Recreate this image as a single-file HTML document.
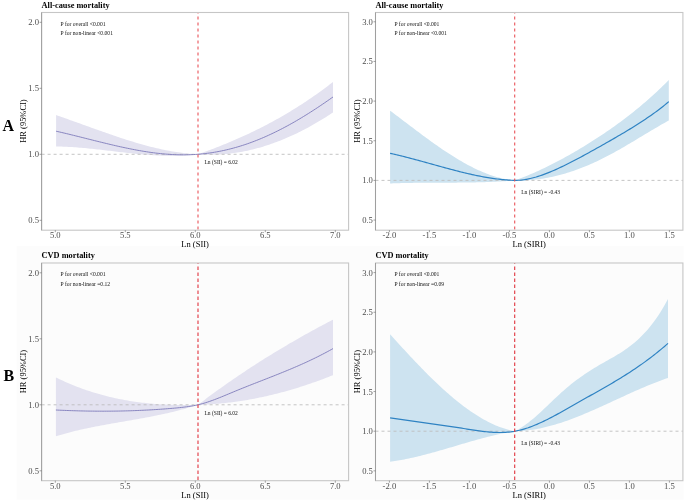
<!DOCTYPE html>
<html><head><meta charset="utf-8"><style>
html,body{margin:0;padding:0;background:#fff;}
body{width:685px;height:501px;overflow:hidden;}
svg{display:block;font-family:"Liberation Serif", serif;filter:blur(0.3px);}
</style></head><body>
<svg width="685" height="501" viewBox="0 0 685 501">
<rect x="16.6" y="246" width="667" height="253.7" fill="#fcfcfc"/>
<path d="M56.10,115.12 L57.90,115.74 L59.69,116.35 L61.49,116.97 L63.28,117.60 L65.08,118.23 L66.88,118.86 L68.67,119.49 L70.47,120.13 L72.27,120.77 L74.06,121.41 L75.86,122.05 L77.65,122.70 L79.45,123.34 L81.25,123.99 L83.04,124.64 L84.84,125.29 L86.64,125.94 L88.43,126.58 L90.23,127.23 L92.02,127.88 L93.82,128.52 L95.62,129.17 L97.41,129.81 L99.21,130.45 L101.01,131.09 L102.80,131.72 L104.60,132.36 L106.39,132.99 L108.19,133.61 L109.99,134.24 L111.78,134.85 L113.58,135.47 L115.37,136.08 L117.17,136.68 L118.97,137.28 L120.76,137.88 L122.56,138.47 L124.36,139.05 L126.15,139.63 L127.95,140.20 L129.74,140.76 L131.54,141.32 L133.34,141.87 L135.13,142.41 L136.93,142.94 L138.73,143.47 L140.52,143.99 L142.32,144.49 L144.11,144.99 L145.91,145.48 L147.71,145.96 L149.50,146.43 L151.30,146.89 L153.09,147.34 L154.89,147.78 L156.69,148.21 L158.48,148.62 L160.28,149.03 L162.08,149.42 L163.87,149.80 L165.67,150.16 L167.46,150.52 L169.26,150.86 L171.06,151.19 L172.85,151.50 L174.65,151.80 L176.45,152.09 L178.24,152.36 L180.04,152.62 L181.83,152.86 L183.63,153.08 L185.43,153.29 L187.22,153.49 L189.02,153.66 L190.82,153.83 L192.61,153.97 L194.41,154.10 L196.20,154.21 L198.00,154.30 L199.71,153.69 L201.42,153.08 L203.13,152.47 L204.84,151.84 L206.54,151.22 L208.25,150.58 L209.96,149.94 L211.67,149.30 L213.38,148.65 L215.09,147.99 L216.80,147.32 L218.51,146.65 L220.22,145.98 L221.92,145.29 L223.63,144.60 L225.34,143.90 L227.05,143.20 L228.76,142.49 L230.47,141.77 L232.18,141.05 L233.89,140.31 L235.59,139.57 L237.30,138.83 L239.01,138.07 L240.72,137.31 L242.43,136.54 L244.14,135.76 L245.85,134.97 L247.56,134.18 L249.27,133.38 L250.97,132.57 L252.68,131.75 L254.39,130.92 L256.10,130.08 L257.81,129.24 L259.52,128.38 L261.23,127.52 L262.94,126.65 L264.65,125.77 L266.35,124.88 L268.06,123.98 L269.77,123.07 L271.48,122.15 L273.19,121.23 L274.90,120.29 L276.61,119.34 L278.32,118.39 L280.03,117.42 L281.73,116.44 L283.44,115.46 L285.15,114.46 L286.86,113.45 L288.57,112.43 L290.28,111.41 L291.99,110.37 L293.70,109.32 L295.41,108.26 L297.11,107.18 L298.82,106.10 L300.53,105.01 L302.24,103.90 L303.95,102.79 L305.66,101.66 L307.37,100.52 L309.08,99.37 L310.78,98.20 L312.49,97.03 L314.20,95.84 L315.91,94.64 L317.62,93.43 L319.33,92.21 L321.04,90.97 L322.75,89.73 L324.46,88.47 L326.16,87.19 L327.87,85.91 L329.58,84.61 L331.29,83.30 L333.00,81.97 L333.00,112.47 L331.29,113.59 L329.58,114.71 L327.87,115.81 L326.16,116.90 L324.46,117.97 L322.75,119.03 L321.04,120.07 L319.33,121.10 L317.62,122.11 L315.91,123.11 L314.20,124.10 L312.49,125.07 L310.78,126.02 L309.08,126.96 L307.37,127.89 L305.66,128.80 L303.95,129.70 L302.24,130.58 L300.53,131.44 L298.82,132.30 L297.11,133.13 L295.41,133.95 L293.70,134.76 L291.99,135.55 L290.28,136.33 L288.57,137.09 L286.86,137.83 L285.15,138.56 L283.44,139.28 L281.73,139.97 L280.03,140.66 L278.32,141.33 L276.61,141.98 L274.90,142.61 L273.19,143.23 L271.48,143.84 L269.77,144.43 L268.06,145.00 L266.35,145.56 L264.65,146.10 L262.94,146.63 L261.23,147.14 L259.52,147.63 L257.81,148.11 L256.10,148.57 L254.39,149.01 L252.68,149.44 L250.97,149.85 L249.27,150.25 L247.56,150.63 L245.85,150.99 L244.14,151.34 L242.43,151.67 L240.72,151.98 L239.01,152.28 L237.30,152.56 L235.59,152.82 L233.89,153.07 L232.18,153.30 L230.47,153.51 L228.76,153.71 L227.05,153.89 L225.34,154.05 L223.63,154.20 L221.92,154.32 L220.22,154.43 L218.51,154.53 L216.80,154.61 L215.09,154.67 L213.38,154.71 L211.67,154.73 L209.96,154.74 L208.25,154.73 L206.54,154.70 L204.84,154.66 L203.13,154.59 L201.42,154.51 L199.71,154.42 L198.00,154.30 L196.20,154.52 L194.41,154.73 L192.61,154.91 L190.82,155.08 L189.02,155.23 L187.22,155.36 L185.43,155.48 L183.63,155.58 L181.83,155.67 L180.04,155.74 L178.24,155.79 L176.45,155.83 L174.65,155.86 L172.85,155.87 L171.06,155.88 L169.26,155.86 L167.46,155.84 L165.67,155.80 L163.87,155.75 L162.08,155.69 L160.28,155.62 L158.48,155.54 L156.69,155.45 L154.89,155.35 L153.09,155.24 L151.30,155.12 L149.50,154.99 L147.71,154.86 L145.91,154.72 L144.11,154.57 L142.32,154.41 L140.52,154.25 L138.73,154.08 L136.93,153.90 L135.13,153.72 L133.34,153.53 L131.54,153.34 L129.74,153.15 L127.95,152.95 L126.15,152.75 L124.36,152.55 L122.56,152.34 L120.76,152.13 L118.97,151.92 L117.17,151.71 L115.37,151.49 L113.58,151.28 L111.78,151.07 L109.99,150.85 L108.19,150.64 L106.39,150.43 L104.60,150.22 L102.80,150.01 L101.01,149.80 L99.21,149.60 L97.41,149.40 L95.62,149.20 L93.82,149.01 L92.02,148.82 L90.23,148.63 L88.43,148.45 L86.64,148.28 L84.84,148.11 L83.04,147.95 L81.25,147.79 L79.45,147.64 L77.65,147.50 L75.86,147.36 L74.06,147.24 L72.27,147.12 L70.47,147.01 L68.67,146.91 L66.88,146.82 L65.08,146.74 L63.28,146.67 L61.49,146.62 L59.69,146.57 L57.90,146.53 L56.10,146.51 Z" fill="#e3e2f0" stroke="none"/>
<line x1="41.6" x2="348.6" y1="154.30" y2="154.30" stroke="#bdbdbd" stroke-width="0.9" stroke-dasharray="3,3"/>
<path d="M56.10,131.20 L57.84,131.60 L59.58,132.00 L61.32,132.40 L63.07,132.81 L64.81,133.22 L66.55,133.64 L68.29,134.06 L70.03,134.48 L71.77,134.91 L73.52,135.34 L75.26,135.77 L77.00,136.20 L78.74,136.63 L80.48,137.07 L82.22,137.50 L83.96,137.94 L85.71,138.38 L87.45,138.82 L89.19,139.26 L90.93,139.69 L92.67,140.13 L94.41,140.57 L96.15,141.00 L97.90,141.43 L99.64,141.86 L101.38,142.29 L103.12,142.72 L104.86,143.14 L106.60,143.57 L108.35,143.98 L110.09,144.40 L111.83,144.81 L113.57,145.22 L115.31,145.62 L117.05,146.02 L118.79,146.41 L120.54,146.80 L122.28,147.18 L124.02,147.55 L125.76,147.92 L127.50,148.29 L129.24,148.64 L130.98,148.99 L132.73,149.34 L134.47,149.67 L136.21,150.00 L137.95,150.32 L139.69,150.63 L141.43,150.93 L143.18,151.23 L144.92,151.51 L146.66,151.78 L148.40,152.05 L150.14,152.30 L151.88,152.55 L153.62,152.78 L155.37,153.00 L157.11,153.22 L158.85,153.42 L160.59,153.60 L162.33,153.78 L164.07,153.94 L165.82,154.09 L167.56,154.23 L169.30,154.36 L171.04,154.47 L172.78,154.56 L174.52,154.65 L176.26,154.72 L178.01,154.77 L179.75,154.81 L181.49,154.83 L183.23,154.84 L184.97,154.83 L186.71,154.81 L188.45,154.77 L190.20,154.71 L191.94,154.64 L193.68,154.55 L195.42,154.45 L197.16,154.33 L198.90,154.19 L200.65,154.03 L202.39,153.87 L204.13,153.68 L205.87,153.48 L207.61,153.26 L209.35,153.02 L211.09,152.77 L212.84,152.50 L214.58,152.22 L216.32,151.92 L218.06,151.60 L219.80,151.27 L221.54,150.92 L223.28,150.55 L225.03,150.17 L226.77,149.77 L228.51,149.36 L230.25,148.92 L231.99,148.47 L233.73,148.01 L235.48,147.53 L237.22,147.03 L238.96,146.51 L240.70,145.98 L242.44,145.43 L244.18,144.87 L245.92,144.29 L247.67,143.69 L249.41,143.07 L251.15,142.44 L252.89,141.79 L254.63,141.13 L256.37,140.45 L258.12,139.76 L259.86,139.04 L261.60,138.32 L263.34,137.58 L265.08,136.82 L266.82,136.05 L268.56,135.26 L270.31,134.46 L272.05,133.64 L273.79,132.81 L275.53,131.96 L277.27,131.10 L279.01,130.23 L280.75,129.34 L282.50,128.44 L284.24,127.52 L285.98,126.60 L287.72,125.65 L289.46,124.70 L291.20,123.73 L292.95,122.75 L294.69,121.75 L296.43,120.74 L298.17,119.72 L299.91,118.69 L301.65,117.65 L303.39,116.59 L305.14,115.52 L306.88,114.44 L308.62,113.35 L310.36,112.25 L312.10,111.14 L313.84,110.01 L315.58,108.88 L317.33,107.73 L319.07,106.57 L320.81,105.41 L322.55,104.23 L324.29,103.05 L326.03,101.85 L327.78,100.64 L329.52,99.43 L331.26,98.20 L333.00,96.97" fill="none" stroke="#7e7aba" stroke-width="0.9"/>
<line x1="198.0" x2="198.0" y1="12.5" y2="230.2" stroke="#e9535a" stroke-width="1.1" stroke-dasharray="3,3" stroke-dashoffset="-4"/>
<rect x="41.6" y="12.5" width="307.0" height="217.7" fill="none" stroke="#c6c6c6" stroke-width="1.1"/>
<line x1="41.6" x2="41.6" y1="12.5" y2="230.2" stroke="#959595" stroke-width="0.8"/>
<line x1="39.6" x2="41.6" y1="22.30" y2="22.30" stroke="#666" stroke-width="0.6"/>
<text x="39.0" y="25.30" text-anchor="end" font-size="8.6" fill="#4d4d4d">2.0</text>
<line x1="39.6" x2="41.6" y1="88.30" y2="88.30" stroke="#666" stroke-width="0.6"/>
<text x="39.0" y="91.30" text-anchor="end" font-size="8.6" fill="#4d4d4d">1.5</text>
<line x1="39.6" x2="41.6" y1="154.30" y2="154.30" stroke="#666" stroke-width="0.6"/>
<text x="39.0" y="157.30" text-anchor="end" font-size="8.6" fill="#4d4d4d">1.0</text>
<line x1="39.6" x2="41.6" y1="220.30" y2="220.30" stroke="#666" stroke-width="0.6"/>
<text x="39.0" y="223.30" text-anchor="end" font-size="8.6" fill="#4d4d4d">0.5</text>
<line x1="55.30" x2="55.30" y1="230.2" y2="232.2" stroke="#666" stroke-width="0.6"/>
<text x="55.30" y="238.00" text-anchor="middle" font-size="8.6" fill="#4d4d4d">5.0</text>
<line x1="125.30" x2="125.30" y1="230.2" y2="232.2" stroke="#666" stroke-width="0.6"/>
<text x="125.30" y="238.00" text-anchor="middle" font-size="8.6" fill="#4d4d4d">5.5</text>
<line x1="195.30" x2="195.30" y1="230.2" y2="232.2" stroke="#666" stroke-width="0.6"/>
<text x="195.30" y="238.00" text-anchor="middle" font-size="8.6" fill="#4d4d4d">6.0</text>
<line x1="265.30" x2="265.30" y1="230.2" y2="232.2" stroke="#666" stroke-width="0.6"/>
<text x="265.30" y="238.00" text-anchor="middle" font-size="8.6" fill="#4d4d4d">6.5</text>
<line x1="335.30" x2="335.30" y1="230.2" y2="232.2" stroke="#666" stroke-width="0.6"/>
<text x="335.30" y="238.00" text-anchor="middle" font-size="8.6" fill="#4d4d4d">7.0</text>
<text x="41.6" y="7.90" font-size="8.3" font-weight="bold" fill="#000">All-cause mortality</text>
<text x="60.6" dx="0.00" y="25.80" font-size="5.6" fill="#111">P for overall &lt;0.001</text>
<text x="60.6" dx="0.00" y="35.00" font-size="5.6" fill="#111">P for non-linear &lt;0.001</text>
<text x="204.50" y="164.10" font-size="5.5" fill="#111">Ln (SII) = 6.02</text>
<text x="195.10" y="246.80" text-anchor="middle" font-size="8.5" fill="#000">Ln (SII)</text>
<text transform="translate(26.20,121.05) rotate(-90)" text-anchor="middle" font-size="8.45" fill="#000">HR (95%CI)</text>
<path d="M390.10,110.65 L391.68,111.83 L393.25,113.02 L394.83,114.21 L396.41,115.40 L397.99,116.60 L399.56,117.79 L401.14,118.99 L402.72,120.19 L404.29,121.39 L405.87,122.59 L407.45,123.78 L409.03,124.98 L410.60,126.18 L412.18,127.37 L413.76,128.56 L415.34,129.75 L416.91,130.94 L418.49,132.12 L420.07,133.30 L421.64,134.47 L423.22,135.64 L424.80,136.80 L426.38,137.96 L427.95,139.11 L429.53,140.26 L431.11,141.40 L432.68,142.53 L434.26,143.65 L435.84,144.77 L437.42,145.87 L438.99,146.97 L440.57,148.06 L442.15,149.13 L443.73,150.20 L445.30,151.26 L446.88,152.30 L448.46,153.33 L450.03,154.35 L451.61,155.36 L453.19,156.36 L454.77,157.34 L456.34,158.31 L457.92,159.26 L459.50,160.20 L461.07,161.12 L462.65,162.03 L464.23,162.92 L465.81,163.80 L467.38,164.65 L468.96,165.49 L470.54,166.32 L472.12,167.12 L473.69,167.91 L475.27,168.68 L476.85,169.42 L478.42,170.15 L480.00,170.86 L481.58,171.55 L483.16,172.21 L484.73,172.86 L486.31,173.48 L487.89,174.08 L489.46,174.65 L491.04,175.21 L492.62,175.74 L494.20,176.24 L495.77,176.72 L497.35,177.18 L498.93,177.61 L500.51,178.01 L502.08,178.39 L503.66,178.74 L505.24,179.06 L506.81,179.36 L508.39,179.62 L509.97,179.86 L511.55,180.07 L513.12,180.25 L514.70,180.40 L516.65,179.70 L518.60,178.98 L520.55,178.24 L522.50,177.49 L524.45,176.72 L526.40,175.93 L528.35,175.13 L530.31,174.32 L532.26,173.48 L534.21,172.64 L536.16,171.77 L538.11,170.90 L540.06,170.00 L542.01,169.10 L543.96,168.18 L545.91,167.24 L547.86,166.29 L549.81,165.33 L551.76,164.35 L553.71,163.36 L555.66,162.35 L557.61,161.33 L559.56,160.30 L561.52,159.25 L563.47,158.19 L565.42,157.12 L567.37,156.03 L569.32,154.94 L571.27,153.83 L573.22,152.70 L575.17,151.57 L577.12,150.42 L579.07,149.26 L581.02,148.09 L582.97,146.91 L584.92,145.71 L586.87,144.51 L588.82,143.29 L590.77,142.06 L592.73,140.82 L594.68,139.57 L596.63,138.31 L598.58,137.03 L600.53,135.75 L602.48,134.45 L604.43,133.14 L606.38,131.82 L608.33,130.48 L610.28,129.13 L612.23,127.77 L614.18,126.39 L616.13,124.99 L618.08,123.58 L620.03,122.15 L621.98,120.71 L623.94,119.25 L625.89,117.77 L627.84,116.28 L629.79,114.76 L631.74,113.23 L633.69,111.68 L635.64,110.11 L637.59,108.52 L639.54,106.91 L641.49,105.27 L643.44,103.62 L645.39,101.95 L647.34,100.25 L649.29,98.53 L651.24,96.79 L653.19,95.02 L655.15,93.23 L657.10,91.42 L659.05,89.58 L661.00,87.71 L662.95,85.83 L664.90,83.91 L666.85,81.97 L668.80,80.00 L668.80,120.48 L666.85,121.56 L664.90,122.65 L662.95,123.76 L661.00,124.87 L659.05,126.00 L657.10,127.14 L655.15,128.28 L653.19,129.44 L651.24,130.59 L649.29,131.76 L647.34,132.93 L645.39,134.10 L643.44,135.27 L641.49,136.45 L639.54,137.62 L637.59,138.80 L635.64,139.97 L633.69,141.14 L631.74,142.30 L629.79,143.46 L627.84,144.62 L625.89,145.76 L623.94,146.90 L621.98,148.03 L620.03,149.15 L618.08,150.25 L616.13,151.35 L614.18,152.43 L612.23,153.49 L610.28,154.54 L608.33,155.57 L606.38,156.59 L604.43,157.59 L602.48,158.57 L600.53,159.53 L598.58,160.47 L596.63,161.39 L594.68,162.29 L592.73,163.18 L590.77,164.04 L588.82,164.88 L586.87,165.71 L584.92,166.51 L582.97,167.30 L581.02,168.06 L579.07,168.80 L577.12,169.53 L575.17,170.23 L573.22,170.91 L571.27,171.56 L569.32,172.20 L567.37,172.82 L565.42,173.41 L563.47,173.98 L561.52,174.52 L559.56,175.05 L557.61,175.55 L555.66,176.03 L553.71,176.49 L551.76,176.92 L549.81,177.33 L547.86,177.71 L545.91,178.07 L543.96,178.41 L542.01,178.72 L540.06,179.00 L538.11,179.27 L536.16,179.50 L534.21,179.72 L532.26,179.90 L530.31,180.06 L528.35,180.20 L526.40,180.31 L524.45,180.39 L522.50,180.44 L520.55,180.47 L518.60,180.48 L516.65,180.45 L514.70,180.40 L513.12,180.53 L511.55,180.66 L509.97,180.79 L508.39,180.90 L506.81,181.02 L505.24,181.13 L503.66,181.23 L502.08,181.33 L500.51,181.42 L498.93,181.51 L497.35,181.59 L495.77,181.67 L494.20,181.75 L492.62,181.82 L491.04,181.89 L489.46,181.96 L487.89,182.02 L486.31,182.07 L484.73,182.13 L483.16,182.18 L481.58,182.22 L480.00,182.27 L478.42,182.31 L476.85,182.35 L475.27,182.38 L473.69,182.41 L472.12,182.44 L470.54,182.47 L468.96,182.50 L467.38,182.52 L465.81,182.54 L464.23,182.56 L462.65,182.58 L461.07,182.59 L459.50,182.61 L457.92,182.62 L456.34,182.63 L454.77,182.64 L453.19,182.65 L451.61,182.66 L450.03,182.67 L448.46,182.67 L446.88,182.68 L445.30,182.68 L443.73,182.69 L442.15,182.69 L440.57,182.70 L438.99,182.70 L437.42,182.70 L435.84,182.71 L434.26,182.71 L432.68,182.72 L431.11,182.72 L429.53,182.73 L427.95,182.74 L426.38,182.75 L424.80,182.76 L423.22,182.77 L421.64,182.78 L420.07,182.79 L418.49,182.80 L416.91,182.82 L415.34,182.84 L413.76,182.86 L412.18,182.88 L410.60,182.90 L409.03,182.93 L407.45,182.96 L405.87,182.99 L404.29,183.02 L402.72,183.06 L401.14,183.10 L399.56,183.14 L397.99,183.18 L396.41,183.23 L394.83,183.28 L393.25,183.34 L391.68,183.39 L390.10,183.46 Z" fill="#cde3f0" stroke="none"/>
<line x1="375.5" x2="682.9" y1="180.40" y2="180.40" stroke="#bdbdbd" stroke-width="0.9" stroke-dasharray="3,3"/>
<path d="M390.10,153.33 L391.68,153.68 L393.25,154.03 L394.83,154.39 L396.41,154.76 L397.99,155.13 L399.56,155.51 L401.14,155.90 L402.72,156.29 L404.29,156.68 L405.87,157.08 L407.45,157.49 L409.03,157.90 L410.60,158.31 L412.18,158.73 L413.76,159.15 L415.34,159.57 L416.91,160.00 L418.49,160.43 L420.07,160.86 L421.64,161.29 L423.22,161.73 L424.80,162.16 L426.38,162.60 L427.95,163.04 L429.53,163.48 L431.11,163.92 L432.68,164.36 L434.26,164.79 L435.84,165.23 L437.42,165.67 L438.99,166.11 L440.57,166.54 L442.15,166.98 L443.73,167.41 L445.30,167.84 L446.88,168.27 L448.46,168.69 L450.03,169.11 L451.61,169.53 L453.19,169.95 L454.77,170.36 L456.34,170.77 L457.92,171.17 L459.50,171.57 L461.07,171.96 L462.65,172.35 L464.23,172.73 L465.81,173.11 L467.38,173.48 L468.96,173.84 L470.54,174.20 L472.12,174.55 L473.69,174.89 L475.27,175.23 L476.85,175.56 L478.42,175.88 L480.00,176.19 L481.58,176.49 L483.16,176.79 L484.73,177.07 L486.31,177.35 L487.89,177.62 L489.46,177.87 L491.04,178.12 L492.62,178.36 L494.20,178.58 L495.77,178.80 L497.35,179.00 L498.93,179.19 L500.51,179.37 L502.08,179.54 L503.66,179.69 L505.24,179.83 L506.81,179.96 L508.39,180.08 L509.97,180.18 L511.55,180.27 L513.12,180.34 L514.70,180.40 L516.65,180.37 L518.60,180.27 L520.55,180.11 L522.50,179.90 L524.45,179.63 L526.40,179.30 L528.35,178.93 L530.31,178.50 L532.26,178.03 L534.21,177.52 L536.16,176.97 L538.11,176.37 L540.06,175.74 L542.01,175.08 L543.96,174.38 L545.91,173.65 L547.86,172.89 L549.81,172.10 L551.76,171.28 L553.71,170.44 L555.66,169.58 L557.61,168.70 L559.56,167.80 L561.52,166.88 L563.47,165.94 L565.42,164.98 L567.37,164.01 L569.32,163.03 L571.27,162.04 L573.22,161.03 L575.17,160.01 L577.12,158.99 L579.07,157.95 L581.02,156.91 L582.97,155.86 L584.92,154.80 L586.87,153.74 L588.82,152.67 L590.77,151.59 L592.73,150.51 L594.68,149.43 L596.63,148.34 L598.58,147.25 L600.53,146.15 L602.48,145.05 L604.43,143.95 L606.38,142.84 L608.33,141.73 L610.28,140.61 L612.23,139.49 L614.18,138.36 L616.13,137.23 L618.08,136.10 L620.03,134.95 L621.98,133.80 L623.94,132.65 L625.89,131.48 L627.84,130.31 L629.79,129.12 L631.74,127.93 L633.69,126.73 L635.64,125.51 L637.59,124.28 L639.54,123.03 L641.49,121.77 L643.44,120.49 L645.39,119.19 L647.34,117.87 L649.29,116.53 L651.24,115.17 L653.19,113.79 L655.15,112.37 L657.10,110.93 L659.05,109.46 L661.00,107.96 L662.95,106.43 L664.90,104.86 L666.85,103.25 L668.80,101.60" fill="none" stroke="#2f83c3" stroke-width="1.2"/>
<line x1="514.7" x2="514.7" y1="12.5" y2="230.2" stroke="#e9535a" stroke-width="1.1" stroke-dasharray="3,3" stroke-dashoffset="-4"/>
<rect x="375.5" y="12.5" width="307.4" height="217.7" fill="none" stroke="#c6c6c6" stroke-width="1.1"/>
<line x1="375.5" x2="375.5" y1="12.5" y2="230.2" stroke="#959595" stroke-width="0.8"/>
<line x1="373.5" x2="375.5" y1="21.80" y2="21.80" stroke="#666" stroke-width="0.6"/>
<text x="372.9" y="24.80" text-anchor="end" font-size="8.6" fill="#4d4d4d">3.0</text>
<line x1="373.5" x2="375.5" y1="61.45" y2="61.45" stroke="#666" stroke-width="0.6"/>
<text x="372.9" y="64.45" text-anchor="end" font-size="8.6" fill="#4d4d4d">2.5</text>
<line x1="373.5" x2="375.5" y1="101.10" y2="101.10" stroke="#666" stroke-width="0.6"/>
<text x="372.9" y="104.10" text-anchor="end" font-size="8.6" fill="#4d4d4d">2.0</text>
<line x1="373.5" x2="375.5" y1="140.75" y2="140.75" stroke="#666" stroke-width="0.6"/>
<text x="372.9" y="143.75" text-anchor="end" font-size="8.6" fill="#4d4d4d">1.5</text>
<line x1="373.5" x2="375.5" y1="180.40" y2="180.40" stroke="#666" stroke-width="0.6"/>
<text x="372.9" y="183.40" text-anchor="end" font-size="8.6" fill="#4d4d4d">1.0</text>
<line x1="373.5" x2="375.5" y1="220.05" y2="220.05" stroke="#666" stroke-width="0.6"/>
<text x="372.9" y="223.05" text-anchor="end" font-size="8.6" fill="#4d4d4d">0.5</text>
<line x1="389.40" x2="389.40" y1="230.2" y2="232.2" stroke="#666" stroke-width="0.6"/>
<text x="389.40" y="238.00" text-anchor="middle" font-size="8.6" fill="#4d4d4d">-2.0</text>
<line x1="429.40" x2="429.40" y1="230.2" y2="232.2" stroke="#666" stroke-width="0.6"/>
<text x="429.40" y="238.00" text-anchor="middle" font-size="8.6" fill="#4d4d4d">-1.5</text>
<line x1="469.40" x2="469.40" y1="230.2" y2="232.2" stroke="#666" stroke-width="0.6"/>
<text x="469.40" y="238.00" text-anchor="middle" font-size="8.6" fill="#4d4d4d">-1.0</text>
<line x1="509.40" x2="509.40" y1="230.2" y2="232.2" stroke="#666" stroke-width="0.6"/>
<text x="509.40" y="238.00" text-anchor="middle" font-size="8.6" fill="#4d4d4d">-0.5</text>
<line x1="549.40" x2="549.40" y1="230.2" y2="232.2" stroke="#666" stroke-width="0.6"/>
<text x="549.40" y="238.00" text-anchor="middle" font-size="8.6" fill="#4d4d4d">0.0</text>
<line x1="589.40" x2="589.40" y1="230.2" y2="232.2" stroke="#666" stroke-width="0.6"/>
<text x="589.40" y="238.00" text-anchor="middle" font-size="8.6" fill="#4d4d4d">0.5</text>
<line x1="629.40" x2="629.40" y1="230.2" y2="232.2" stroke="#666" stroke-width="0.6"/>
<text x="629.40" y="238.00" text-anchor="middle" font-size="8.6" fill="#4d4d4d">1.0</text>
<line x1="669.40" x2="669.40" y1="230.2" y2="232.2" stroke="#666" stroke-width="0.6"/>
<text x="669.40" y="238.00" text-anchor="middle" font-size="8.6" fill="#4d4d4d">1.5</text>
<text x="375.5" y="7.90" font-size="8.3" font-weight="bold" fill="#000">All-cause mortality</text>
<text x="60.6" dx="333.90" y="25.80" font-size="5.6" fill="#111">P for overall &lt;0.001</text>
<text x="60.6" dx="333.90" y="35.00" font-size="5.6" fill="#111">P for non-linear &lt;0.001</text>
<text x="521.20" y="194.20" font-size="5.5" fill="#111">Ln (SIRI) = -0.43</text>
<text x="529.20" y="246.80" text-anchor="middle" font-size="8.5" fill="#000">Ln (SIRI)</text>
<text transform="translate(360.10,121.05) rotate(-90)" text-anchor="middle" font-size="8.45" fill="#000">HR (95%CI)</text>
<path d="M55.90,377.41 L57.70,378.29 L59.50,379.15 L61.30,380.00 L63.09,380.83 L64.89,381.65 L66.69,382.45 L68.49,383.23 L70.29,383.99 L72.09,384.74 L73.89,385.47 L75.69,386.19 L77.48,386.89 L79.28,387.57 L81.08,388.24 L82.88,388.89 L84.68,389.53 L86.48,390.15 L88.28,390.76 L90.08,391.35 L91.87,391.93 L93.67,392.49 L95.47,393.04 L97.27,393.58 L99.07,394.10 L100.87,394.60 L102.67,395.09 L104.47,395.57 L106.26,396.03 L108.06,396.48 L109.86,396.92 L111.66,397.34 L113.46,397.76 L115.26,398.15 L117.06,398.54 L118.86,398.91 L120.65,399.27 L122.45,399.62 L124.25,399.95 L126.05,400.27 L127.85,400.58 L129.65,400.88 L131.45,401.17 L133.25,401.44 L135.04,401.71 L136.84,401.96 L138.64,402.20 L140.44,402.43 L142.24,402.65 L144.04,402.86 L145.84,403.06 L147.64,403.24 L149.43,403.42 L151.23,403.59 L153.03,403.74 L154.83,403.89 L156.63,404.03 L158.43,404.16 L160.23,404.27 L162.03,404.38 L163.82,404.48 L165.62,404.57 L167.42,404.65 L169.22,404.72 L171.02,404.79 L172.82,404.84 L174.62,404.89 L176.42,404.93 L178.21,404.96 L180.01,404.98 L181.81,405.00 L183.61,405.00 L185.41,405.00 L187.21,405.00 L189.01,404.98 L190.81,404.96 L192.60,404.93 L194.40,404.89 L196.20,404.85 L198.00,404.80 L199.71,403.50 L201.42,402.21 L203.13,400.92 L204.84,399.64 L206.54,398.36 L208.25,397.09 L209.96,395.83 L211.67,394.57 L213.38,393.32 L215.09,392.08 L216.80,390.84 L218.51,389.61 L220.22,388.39 L221.92,387.17 L223.63,385.96 L225.34,384.75 L227.05,383.55 L228.76,382.36 L230.47,381.17 L232.18,379.99 L233.89,378.81 L235.59,377.64 L237.30,376.48 L239.01,375.32 L240.72,374.17 L242.43,373.02 L244.14,371.88 L245.85,370.74 L247.56,369.61 L249.27,368.49 L250.97,367.37 L252.68,366.26 L254.39,365.15 L256.10,364.05 L257.81,362.95 L259.52,361.86 L261.23,360.78 L262.94,359.70 L264.65,358.62 L266.35,357.55 L268.06,356.49 L269.77,355.43 L271.48,354.38 L273.19,353.33 L274.90,352.29 L276.61,351.25 L278.32,350.21 L280.03,349.19 L281.73,348.16 L283.44,347.15 L285.15,346.13 L286.86,345.13 L288.57,344.12 L290.28,343.12 L291.99,342.13 L293.70,341.14 L295.41,340.16 L297.11,339.18 L298.82,338.21 L300.53,337.24 L302.24,336.27 L303.95,335.31 L305.66,334.35 L307.37,333.40 L309.08,332.46 L310.78,331.51 L312.49,330.58 L314.20,329.64 L315.91,328.71 L317.62,327.79 L319.33,326.87 L321.04,325.95 L322.75,325.04 L324.46,324.13 L326.16,323.23 L327.87,322.33 L329.58,321.44 L331.29,320.54 L333.00,319.66 L333.00,375.18 L331.29,375.86 L329.58,376.54 L327.87,377.20 L326.16,377.86 L324.46,378.51 L322.75,379.16 L321.04,379.79 L319.33,380.42 L317.62,381.04 L315.91,381.66 L314.20,382.27 L312.49,382.87 L310.78,383.46 L309.08,384.04 L307.37,384.62 L305.66,385.19 L303.95,385.75 L302.24,386.30 L300.53,386.85 L298.82,387.39 L297.11,387.92 L295.41,388.44 L293.70,388.96 L291.99,389.47 L290.28,389.97 L288.57,390.46 L286.86,390.94 L285.15,391.42 L283.44,391.89 L281.73,392.35 L280.03,392.80 L278.32,393.25 L276.61,393.69 L274.90,394.11 L273.19,394.54 L271.48,394.95 L269.77,395.35 L268.06,395.75 L266.35,396.14 L264.65,396.52 L262.94,396.89 L261.23,397.26 L259.52,397.61 L257.81,397.96 L256.10,398.30 L254.39,398.63 L252.68,398.96 L250.97,399.27 L249.27,399.58 L247.56,399.88 L245.85,400.16 L244.14,400.45 L242.43,400.72 L240.72,400.98 L239.01,401.24 L237.30,401.49 L235.59,401.73 L233.89,401.96 L232.18,402.18 L230.47,402.39 L228.76,402.60 L227.05,402.80 L225.34,402.98 L223.63,403.16 L221.92,403.33 L220.22,403.50 L218.51,403.65 L216.80,403.79 L215.09,403.93 L213.38,404.06 L211.67,404.17 L209.96,404.28 L208.25,404.38 L206.54,404.48 L204.84,404.56 L203.13,404.63 L201.42,404.70 L199.71,404.75 L198.00,404.80 L196.20,405.39 L194.40,405.96 L192.60,406.52 L190.81,407.06 L189.01,407.60 L187.21,408.12 L185.41,408.63 L183.61,409.13 L181.81,409.61 L180.01,410.09 L178.21,410.56 L176.42,411.01 L174.62,411.46 L172.82,411.90 L171.02,412.33 L169.22,412.75 L167.42,413.16 L165.62,413.56 L163.82,413.96 L162.03,414.35 L160.23,414.73 L158.43,415.10 L156.63,415.47 L154.83,415.83 L153.03,416.19 L151.23,416.54 L149.43,416.89 L147.64,417.23 L145.84,417.57 L144.04,417.90 L142.24,418.23 L140.44,418.55 L138.64,418.88 L136.84,419.20 L135.04,419.52 L133.25,419.83 L131.45,420.15 L129.65,420.46 L127.85,420.77 L126.05,421.08 L124.25,421.39 L122.45,421.70 L120.65,422.02 L118.86,422.33 L117.06,422.64 L115.26,422.95 L113.46,423.27 L111.66,423.59 L109.86,423.91 L108.06,424.23 L106.26,424.56 L104.47,424.88 L102.67,425.22 L100.87,425.55 L99.07,425.89 L97.27,426.24 L95.47,426.59 L93.67,426.95 L91.87,427.31 L90.08,427.67 L88.28,428.05 L86.48,428.43 L84.68,428.81 L82.88,429.21 L81.08,429.61 L79.28,430.02 L77.48,430.44 L75.69,430.87 L73.89,431.30 L72.09,431.75 L70.29,432.20 L68.49,432.67 L66.69,433.14 L64.89,433.63 L63.09,434.13 L61.30,434.63 L59.50,435.15 L57.70,435.68 L55.90,436.23 Z" fill="#e3e2f0" stroke="none"/>
<line x1="41.6" x2="348.6" y1="404.80" y2="404.80" stroke="#bdbdbd" stroke-width="0.9" stroke-dasharray="3,3"/>
<path d="M55.90,410.01 L57.64,410.10 L59.39,410.18 L61.13,410.25 L62.87,410.33 L64.61,410.40 L66.36,410.47 L68.10,410.53 L69.84,410.60 L71.58,410.65 L73.33,410.71 L75.07,410.76 L76.81,410.81 L78.56,410.86 L80.30,410.91 L82.04,410.95 L83.78,410.98 L85.53,411.02 L87.27,411.05 L89.01,411.08 L90.76,411.10 L92.50,411.12 L94.24,411.14 L95.98,411.16 L97.73,411.17 L99.47,411.18 L101.21,411.18 L102.95,411.19 L104.70,411.18 L106.44,411.18 L108.18,411.17 L109.93,411.16 L111.67,411.14 L113.41,411.13 L115.15,411.10 L116.90,411.08 L118.64,411.05 L120.38,411.02 L122.13,410.98 L123.87,410.94 L125.61,410.90 L127.35,410.85 L129.10,410.80 L130.84,410.75 L132.58,410.69 L134.32,410.63 L136.07,410.56 L137.81,410.49 L139.55,410.42 L141.30,410.34 L143.04,410.26 L144.78,410.18 L146.52,410.09 L148.27,410.00 L150.01,409.90 L151.75,409.80 L153.49,409.70 L155.24,409.59 L156.98,409.48 L158.72,409.37 L160.47,409.25 L162.21,409.12 L163.95,409.00 L165.69,408.87 L167.44,408.73 L169.18,408.59 L170.92,408.45 L172.67,408.30 L174.41,408.15 L176.15,407.99 L177.89,407.82 L179.64,407.64 L181.38,407.45 L183.12,407.24 L184.86,407.03 L186.61,406.79 L188.35,406.55 L190.09,406.28 L191.84,406.00 L193.58,405.69 L195.32,405.36 L197.06,404.99 L198.81,404.59 L200.55,404.16 L202.29,403.69 L204.04,403.19 L205.78,402.65 L207.52,402.10 L209.26,401.51 L211.01,400.90 L212.75,400.28 L214.49,399.63 L216.23,398.96 L217.98,398.28 L219.72,397.59 L221.46,396.89 L223.21,396.18 L224.95,395.46 L226.69,394.73 L228.43,394.01 L230.18,393.28 L231.92,392.55 L233.66,391.82 L235.41,391.10 L237.15,390.38 L238.89,389.67 L240.63,388.96 L242.38,388.26 L244.12,387.56 L245.86,386.86 L247.60,386.17 L249.35,385.48 L251.09,384.79 L252.83,384.10 L254.58,383.42 L256.32,382.74 L258.06,382.06 L259.80,381.37 L261.55,380.69 L263.29,380.01 L265.03,379.33 L266.77,378.65 L268.52,377.97 L270.26,377.28 L272.00,376.60 L273.75,375.91 L275.49,375.22 L277.23,374.52 L278.97,373.83 L280.72,373.12 L282.46,372.42 L284.20,371.71 L285.95,370.99 L287.69,370.27 L289.43,369.55 L291.17,368.82 L292.92,368.08 L294.66,367.34 L296.40,366.59 L298.14,365.83 L299.89,365.06 L301.63,364.29 L303.37,363.51 L305.12,362.72 L306.86,361.92 L308.60,361.11 L310.34,360.29 L312.09,359.46 L313.83,358.62 L315.57,357.77 L317.32,356.91 L319.06,356.04 L320.80,355.15 L322.54,354.26 L324.29,353.35 L326.03,352.43 L327.77,351.49 L329.51,350.54 L331.26,349.58 L333.00,348.60" fill="none" stroke="#7e7aba" stroke-width="0.9"/>
<line x1="198.0" x2="198.0" y1="263.0" y2="480.7" stroke="#e0343e" stroke-width="1.1" stroke-dasharray="3.4,2.6" stroke-dashoffset="-3.6"/>
<rect x="41.6" y="263.0" width="307.0" height="217.7" fill="none" stroke="#c6c6c6" stroke-width="1.1"/>
<line x1="41.6" x2="41.6" y1="263.0" y2="480.7" stroke="#959595" stroke-width="0.8"/>
<line x1="39.6" x2="41.6" y1="272.80" y2="272.80" stroke="#666" stroke-width="0.6"/>
<text x="39.0" y="275.80" text-anchor="end" font-size="8.6" fill="#4d4d4d">2.0</text>
<line x1="39.6" x2="41.6" y1="338.80" y2="338.80" stroke="#666" stroke-width="0.6"/>
<text x="39.0" y="341.80" text-anchor="end" font-size="8.6" fill="#4d4d4d">1.5</text>
<line x1="39.6" x2="41.6" y1="404.80" y2="404.80" stroke="#666" stroke-width="0.6"/>
<text x="39.0" y="407.80" text-anchor="end" font-size="8.6" fill="#4d4d4d">1.0</text>
<line x1="39.6" x2="41.6" y1="470.80" y2="470.80" stroke="#666" stroke-width="0.6"/>
<text x="39.0" y="473.80" text-anchor="end" font-size="8.6" fill="#4d4d4d">0.5</text>
<line x1="55.30" x2="55.30" y1="480.7" y2="482.7" stroke="#666" stroke-width="0.6"/>
<text x="55.30" y="489.00" text-anchor="middle" font-size="8.6" fill="#4d4d4d">5.0</text>
<line x1="125.30" x2="125.30" y1="480.7" y2="482.7" stroke="#666" stroke-width="0.6"/>
<text x="125.30" y="489.00" text-anchor="middle" font-size="8.6" fill="#4d4d4d">5.5</text>
<line x1="195.30" x2="195.30" y1="480.7" y2="482.7" stroke="#666" stroke-width="0.6"/>
<text x="195.30" y="489.00" text-anchor="middle" font-size="8.6" fill="#4d4d4d">6.0</text>
<line x1="265.30" x2="265.30" y1="480.7" y2="482.7" stroke="#666" stroke-width="0.6"/>
<text x="265.30" y="489.00" text-anchor="middle" font-size="8.6" fill="#4d4d4d">6.5</text>
<line x1="335.30" x2="335.30" y1="480.7" y2="482.7" stroke="#666" stroke-width="0.6"/>
<text x="335.30" y="489.00" text-anchor="middle" font-size="8.6" fill="#4d4d4d">7.0</text>
<text x="41.6" y="258.40" font-size="8.3" font-weight="bold" fill="#000">CVD mortality</text>
<text x="60.6" dx="0.00" y="276.30" font-size="5.6" fill="#111">P for overall &lt;0.001</text>
<text x="60.6" dx="0.00" y="285.50" font-size="5.6" fill="#111">P for non-linear =0.12</text>
<text x="204.50" y="414.90" font-size="5.5" fill="#111">Ln (SII) = 6.02</text>
<text x="195.10" y="497.50" text-anchor="middle" font-size="8.5" fill="#000">Ln (SII)</text>
<text transform="translate(26.20,371.55) rotate(-90)" text-anchor="middle" font-size="8.45" fill="#000">HR (95%CI)</text>
<path d="M390.10,334.17 L391.68,335.93 L393.25,337.69 L394.83,339.44 L396.41,341.19 L397.99,342.93 L399.56,344.67 L401.14,346.41 L402.72,348.13 L404.29,349.85 L405.87,351.57 L407.45,353.27 L409.03,354.97 L410.60,356.66 L412.18,358.35 L413.76,360.02 L415.34,361.68 L416.91,363.34 L418.49,364.99 L420.07,366.62 L421.64,368.25 L423.22,369.86 L424.80,371.46 L426.38,373.05 L427.95,374.63 L429.53,376.19 L431.11,377.75 L432.68,379.29 L434.26,380.81 L435.84,382.32 L437.42,383.82 L438.99,385.30 L440.57,386.77 L442.15,388.22 L443.73,389.65 L445.30,391.07 L446.88,392.47 L448.46,393.86 L450.03,395.22 L451.61,396.57 L453.19,397.90 L454.77,399.21 L456.34,400.50 L457.92,401.77 L459.50,403.02 L461.07,404.26 L462.65,405.47 L464.23,406.66 L465.81,407.82 L467.38,408.97 L468.96,410.09 L470.54,411.19 L472.12,412.27 L473.69,413.33 L475.27,414.36 L476.85,415.36 L478.42,416.34 L480.00,417.30 L481.58,418.23 L483.16,419.14 L484.73,420.01 L486.31,420.87 L487.89,421.69 L489.46,422.49 L491.04,423.26 L492.62,424.00 L494.20,424.71 L495.77,425.40 L497.35,426.05 L498.93,426.68 L500.51,427.27 L502.08,427.83 L503.66,428.37 L505.24,428.87 L506.81,429.34 L508.39,429.78 L509.97,430.18 L511.55,430.56 L513.12,430.90 L514.70,431.20 L516.64,430.25 L518.58,429.19 L520.52,428.05 L522.46,426.81 L524.40,425.50 L526.34,424.10 L528.28,422.64 L530.22,421.11 L532.16,419.52 L534.11,417.88 L536.05,416.20 L537.99,414.47 L539.93,412.70 L541.87,410.91 L543.81,409.09 L545.75,407.26 L547.69,405.41 L549.63,403.56 L551.57,401.70 L553.51,399.85 L555.45,398.01 L557.39,396.19 L559.33,394.39 L561.27,392.62 L563.21,390.88 L565.15,389.19 L567.09,387.53 L569.03,385.92 L570.97,384.34 L572.92,382.80 L574.86,381.30 L576.80,379.84 L578.74,378.40 L580.68,377.01 L582.62,375.64 L584.56,374.31 L586.50,373.00 L588.44,371.73 L590.38,370.48 L592.32,369.26 L594.26,368.06 L596.20,366.89 L598.14,365.74 L600.08,364.61 L602.02,363.49 L603.96,362.39 L605.90,361.30 L607.84,360.20 L609.78,359.11 L611.73,358.00 L613.67,356.88 L615.61,355.74 L617.55,354.57 L619.49,353.38 L621.43,352.15 L623.37,350.88 L625.31,349.56 L627.25,348.20 L629.19,346.78 L631.13,345.30 L633.07,343.75 L635.01,342.14 L636.95,340.45 L638.89,338.67 L640.83,336.81 L642.77,334.87 L644.71,332.82 L646.65,330.67 L648.59,328.42 L650.54,326.06 L652.48,323.58 L654.42,320.97 L656.36,318.24 L658.30,315.38 L660.24,312.38 L662.18,309.24 L664.12,305.96 L666.06,302.52 L668.00,298.92 L668.00,377.91 L666.06,378.58 L664.12,379.26 L662.18,379.96 L660.24,380.67 L658.30,381.40 L656.36,382.15 L654.42,382.91 L652.48,383.68 L650.54,384.46 L648.59,385.26 L646.65,386.07 L644.71,386.88 L642.77,387.71 L640.83,388.55 L638.89,389.39 L636.95,390.24 L635.01,391.10 L633.07,391.97 L631.13,392.84 L629.19,393.72 L627.25,394.60 L625.31,395.49 L623.37,396.38 L621.43,397.27 L619.49,398.16 L617.55,399.06 L615.61,399.95 L613.67,400.85 L611.73,401.74 L609.78,402.63 L607.84,403.53 L605.90,404.41 L603.96,405.30 L602.02,406.18 L600.08,407.06 L598.14,407.93 L596.20,408.80 L594.26,409.65 L592.32,410.51 L590.38,411.35 L588.44,412.19 L586.50,413.01 L584.56,413.83 L582.62,414.64 L580.68,415.43 L578.74,416.21 L576.80,416.99 L574.86,417.74 L572.92,418.49 L570.97,419.22 L569.03,419.93 L567.09,420.63 L565.15,421.31 L563.21,421.98 L561.27,422.63 L559.33,423.26 L557.39,423.87 L555.45,424.46 L553.51,425.03 L551.57,425.58 L549.63,426.11 L547.69,426.62 L545.75,427.10 L543.81,427.56 L541.87,428.00 L539.93,428.41 L537.99,428.79 L536.05,429.15 L534.11,429.49 L532.16,429.79 L530.22,430.07 L528.28,430.32 L526.34,430.54 L524.40,430.73 L522.46,430.88 L520.52,431.01 L518.58,431.11 L516.64,431.17 L514.70,431.20 L513.12,431.45 L511.55,431.71 L509.97,431.99 L508.39,432.28 L506.81,432.57 L505.24,432.88 L503.66,433.19 L502.08,433.52 L500.51,433.86 L498.93,434.20 L497.35,434.55 L495.77,434.91 L494.20,435.28 L492.62,435.66 L491.04,436.04 L489.46,436.43 L487.89,436.83 L486.31,437.24 L484.73,437.65 L483.16,438.06 L481.58,438.49 L480.00,438.91 L478.42,439.35 L476.85,439.78 L475.27,440.22 L473.69,440.67 L472.12,441.12 L470.54,441.57 L468.96,442.02 L467.38,442.48 L465.81,442.94 L464.23,443.40 L462.65,443.86 L461.07,444.33 L459.50,444.80 L457.92,445.26 L456.34,445.73 L454.77,446.20 L453.19,446.66 L451.61,447.13 L450.03,447.60 L448.46,448.06 L446.88,448.53 L445.30,448.99 L443.73,449.45 L442.15,449.91 L440.57,450.36 L438.99,450.82 L437.42,451.26 L435.84,451.71 L434.26,452.15 L432.68,452.59 L431.11,453.02 L429.53,453.45 L427.95,453.87 L426.38,454.29 L424.80,454.70 L423.22,455.11 L421.64,455.51 L420.07,455.90 L418.49,456.28 L416.91,456.66 L415.34,457.03 L413.76,457.40 L412.18,457.75 L410.60,458.10 L409.03,458.43 L407.45,458.76 L405.87,459.08 L404.29,459.39 L402.72,459.69 L401.14,459.97 L399.56,460.25 L397.99,460.52 L396.41,460.77 L394.83,461.01 L393.25,461.24 L391.68,461.46 L390.10,461.67 Z" fill="#cde3f0" stroke="none"/>
<line x1="375.5" x2="682.9" y1="431.20" y2="431.20" stroke="#bdbdbd" stroke-width="0.9" stroke-dasharray="3,3"/>
<path d="M390.10,417.91 L391.85,418.17 L393.60,418.42 L395.34,418.68 L397.09,418.93 L398.84,419.18 L400.59,419.43 L402.33,419.68 L404.08,419.93 L405.83,420.18 L407.58,420.43 L409.33,420.67 L411.07,420.92 L412.82,421.16 L414.57,421.41 L416.32,421.65 L418.06,421.90 L419.81,422.14 L421.56,422.38 L423.31,422.63 L425.06,422.87 L426.80,423.12 L428.55,423.36 L430.30,423.61 L432.05,423.85 L433.79,424.10 L435.54,424.34 L437.29,424.59 L439.04,424.84 L440.79,425.09 L442.53,425.34 L444.28,425.60 L446.03,425.85 L447.78,426.10 L449.53,426.36 L451.27,426.62 L453.02,426.88 L454.77,427.14 L456.52,427.41 L458.26,427.67 L460.01,427.94 L461.76,428.21 L463.51,428.49 L465.26,428.76 L467.00,429.04 L468.75,429.32 L470.50,429.59 L472.25,429.86 L473.99,430.13 L475.74,430.39 L477.49,430.64 L479.24,430.89 L480.99,431.12 L482.73,431.34 L484.48,431.54 L486.23,431.73 L487.98,431.91 L489.72,432.06 L491.47,432.19 L493.22,432.30 L494.97,432.39 L496.72,432.45 L498.46,432.48 L500.21,432.49 L501.96,432.47 L503.71,432.41 L505.45,432.33 L507.20,432.20 L508.95,432.04 L510.70,431.85 L512.45,431.61 L514.19,431.34 L515.94,431.02 L517.69,430.66 L519.44,430.26 L521.18,429.82 L522.93,429.34 L524.68,428.83 L526.43,428.28 L528.18,427.70 L529.92,427.08 L531.67,426.44 L533.42,425.76 L535.17,425.06 L536.92,424.33 L538.66,423.57 L540.41,422.79 L542.16,421.98 L543.91,421.15 L545.65,420.31 L547.40,419.44 L549.15,418.55 L550.90,417.65 L552.65,416.74 L554.39,415.80 L556.14,414.86 L557.89,413.90 L559.64,412.94 L561.38,411.96 L563.13,410.98 L564.88,409.99 L566.63,409.00 L568.38,408.00 L570.12,407.00 L571.87,406.00 L573.62,405.00 L575.37,404.00 L577.11,403.01 L578.86,402.02 L580.61,401.03 L582.36,400.04 L584.11,399.06 L585.85,398.07 L587.60,397.09 L589.35,396.11 L591.10,395.13 L592.84,394.15 L594.59,393.17 L596.34,392.18 L598.09,391.20 L599.84,390.21 L601.58,389.21 L603.33,388.22 L605.08,387.21 L606.83,386.21 L608.57,385.20 L610.32,384.18 L612.07,383.15 L613.82,382.12 L615.57,381.08 L617.31,380.03 L619.06,378.97 L620.81,377.90 L622.56,376.82 L624.31,375.73 L626.05,374.63 L627.80,373.52 L629.55,372.40 L631.30,371.26 L633.04,370.11 L634.79,368.94 L636.54,367.76 L638.29,366.57 L640.04,365.35 L641.78,364.13 L643.53,362.88 L645.28,361.62 L647.03,360.34 L648.77,359.04 L650.52,357.72 L652.27,356.38 L654.02,355.03 L655.77,353.65 L657.51,352.25 L659.26,350.82 L661.01,349.38 L662.76,347.91 L664.50,346.42 L666.25,344.90 L668.00,343.36" fill="none" stroke="#2f83c3" stroke-width="1.2"/>
<line x1="514.7" x2="514.7" y1="263.0" y2="480.7" stroke="#e0343e" stroke-width="1.1" stroke-dasharray="3.4,2.6" stroke-dashoffset="-3.6"/>
<rect x="375.5" y="263.0" width="307.4" height="217.7" fill="none" stroke="#c6c6c6" stroke-width="1.1"/>
<line x1="375.5" x2="375.5" y1="263.0" y2="480.7" stroke="#959595" stroke-width="0.8"/>
<line x1="373.5" x2="375.5" y1="272.60" y2="272.60" stroke="#666" stroke-width="0.6"/>
<text x="372.9" y="275.60" text-anchor="end" font-size="8.6" fill="#4d4d4d">3.0</text>
<line x1="373.5" x2="375.5" y1="312.25" y2="312.25" stroke="#666" stroke-width="0.6"/>
<text x="372.9" y="315.25" text-anchor="end" font-size="8.6" fill="#4d4d4d">2.5</text>
<line x1="373.5" x2="375.5" y1="351.90" y2="351.90" stroke="#666" stroke-width="0.6"/>
<text x="372.9" y="354.90" text-anchor="end" font-size="8.6" fill="#4d4d4d">2.0</text>
<line x1="373.5" x2="375.5" y1="391.55" y2="391.55" stroke="#666" stroke-width="0.6"/>
<text x="372.9" y="394.55" text-anchor="end" font-size="8.6" fill="#4d4d4d">1.5</text>
<line x1="373.5" x2="375.5" y1="431.20" y2="431.20" stroke="#666" stroke-width="0.6"/>
<text x="372.9" y="434.20" text-anchor="end" font-size="8.6" fill="#4d4d4d">1.0</text>
<line x1="373.5" x2="375.5" y1="470.85" y2="470.85" stroke="#666" stroke-width="0.6"/>
<text x="372.9" y="473.85" text-anchor="end" font-size="8.6" fill="#4d4d4d">0.5</text>
<line x1="389.40" x2="389.40" y1="480.7" y2="482.7" stroke="#666" stroke-width="0.6"/>
<text x="389.40" y="489.00" text-anchor="middle" font-size="8.6" fill="#4d4d4d">-2.0</text>
<line x1="429.40" x2="429.40" y1="480.7" y2="482.7" stroke="#666" stroke-width="0.6"/>
<text x="429.40" y="489.00" text-anchor="middle" font-size="8.6" fill="#4d4d4d">-1.5</text>
<line x1="469.40" x2="469.40" y1="480.7" y2="482.7" stroke="#666" stroke-width="0.6"/>
<text x="469.40" y="489.00" text-anchor="middle" font-size="8.6" fill="#4d4d4d">-1.0</text>
<line x1="509.40" x2="509.40" y1="480.7" y2="482.7" stroke="#666" stroke-width="0.6"/>
<text x="509.40" y="489.00" text-anchor="middle" font-size="8.6" fill="#4d4d4d">-0.5</text>
<line x1="549.40" x2="549.40" y1="480.7" y2="482.7" stroke="#666" stroke-width="0.6"/>
<text x="549.40" y="489.00" text-anchor="middle" font-size="8.6" fill="#4d4d4d">0.0</text>
<line x1="589.40" x2="589.40" y1="480.7" y2="482.7" stroke="#666" stroke-width="0.6"/>
<text x="589.40" y="489.00" text-anchor="middle" font-size="8.6" fill="#4d4d4d">0.5</text>
<line x1="629.40" x2="629.40" y1="480.7" y2="482.7" stroke="#666" stroke-width="0.6"/>
<text x="629.40" y="489.00" text-anchor="middle" font-size="8.6" fill="#4d4d4d">1.0</text>
<line x1="669.40" x2="669.40" y1="480.7" y2="482.7" stroke="#666" stroke-width="0.6"/>
<text x="669.40" y="489.00" text-anchor="middle" font-size="8.6" fill="#4d4d4d">1.5</text>
<text x="375.5" y="258.40" font-size="8.3" font-weight="bold" fill="#000">CVD mortality</text>
<text x="60.6" dx="333.90" y="276.30" font-size="5.6" fill="#111">P for overall &lt;0.001</text>
<text x="60.6" dx="333.90" y="285.50" font-size="5.6" fill="#111">P for non-linear =0.09</text>
<text x="521.20" y="444.70" font-size="5.5" fill="#111">Ln (SIRI) = -0.43</text>
<text x="529.20" y="497.50" text-anchor="middle" font-size="8.5" fill="#000">Ln (SIRI)</text>
<text transform="translate(360.10,371.55) rotate(-90)" text-anchor="middle" font-size="8.45" fill="#000">HR (95%CI)</text>
<text x="2.4" y="130.9" font-size="16" font-weight="bold" fill="#000">A</text>
<text x="3.6" y="380.9" font-size="16" font-weight="bold" fill="#000">B</text>
</svg>
</body></html>
